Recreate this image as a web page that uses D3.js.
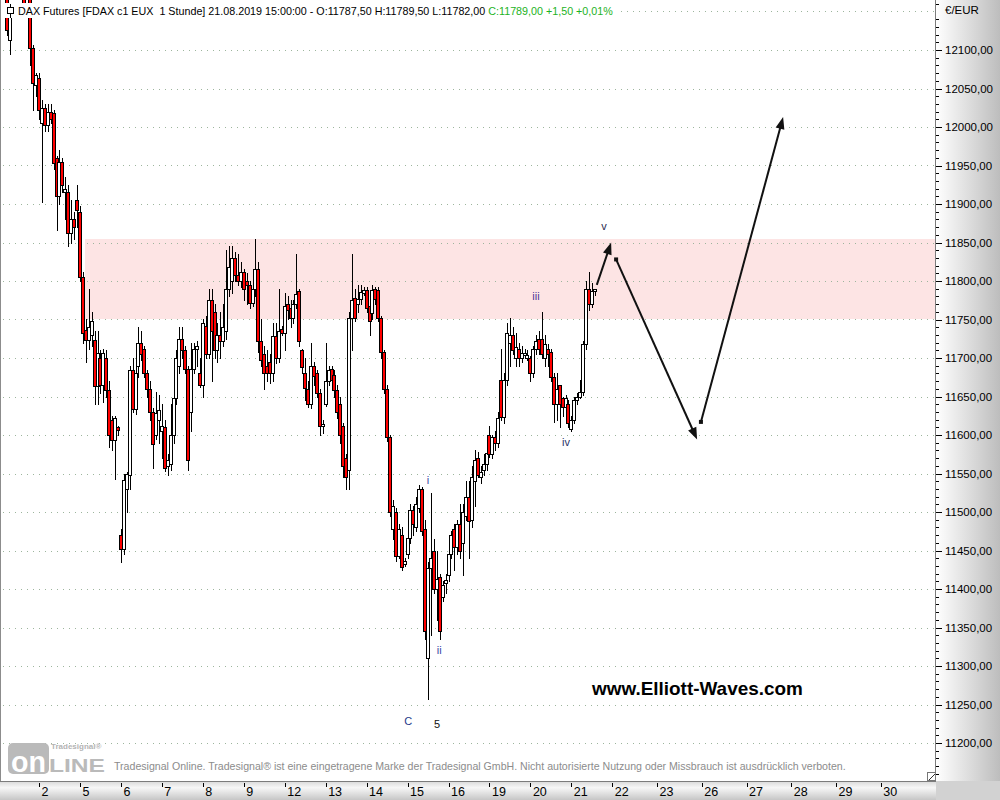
<!DOCTYPE html>
<html><head><meta charset="utf-8">
<script src="https://cdn.jsdelivr.net/npm/d3@7"></script>
<style>
body{margin:0;background:#fff;}
svg{display:block;}
text{font-family:"Liberation Sans",Arial,sans-serif;}
</style>
</head><body>
<svg id="chart" width="1000" height="800"></svg>
<script>
// ---- DATA: hourly candles [open, high, low, close], 14 bars per trading day ----
const aug01 = [
[12200,12210,12180,12190],[12190,12200,12170,12180],[12180,12190,12168,12175],[12175,12180,12120,12126],
[12113,12158,12095,12148],[12168,12200,12166,12195],[12195,12230,12185,12220],[12220,12240,12205,12215],
[12215,12225,12190,12195],[12195,12200,12155,12158],[12160,12180,12150,12172],[12172,12178,12080,12102],
[12102,12106,12022,12057],[12054,12070,12040,12067]];
const aug02 = [
[12064,12070,12010,12022],[12005,12035,11902,12025],[12025,12030,11995,12002],[12002,12030,11995,12020],
[12020,12030,12005,12010],[12018,12022,11945,11953],[11960,11962,11866,11910],[11910,11970,11900,11955],
[11955,11960,11915,11925],[11915,11935,11880,11920],[11915,11925,11845,11862],[11862,11905,11850,11880],
[11880,11890,11855,11870],[11905,11925,11870,11892]];
const aug05 = [
[11890,11898,11800,11805],[11805,11812,11720,11732],[11736,11750,11695,11724],[11724,11790,11712,11740],
[11730,11760,11715,11748],[11723,11735,11640,11664],[11664,11735,11640,11706],[11700,11710,11655,11665],
[11665,11712,11643,11706],[11700,11710,11650,11658],[11658,11670,11585,11600],[11620,11625,11580,11593],
[11593,11625,11543,11622],[11610,11612,11600,11606]];
const aug06 = [
[11470,11478,11435,11452],[11452,11550,11445,11542],[11530,11552,11500,11550],[11548,11690,11530,11684],
[11684,11700,11630,11634],[11634,11710,11627,11680],[11690,11740,11675,11720],[11720,11735,11698,11705],
[11712,11715,11675,11680],[11680,11685,11650,11660],[11660,11670,11620,11630],[11630,11635,11557,11588],
[11600,11656,11595,11628],[11620,11652,11590,11632]];
const aug07 = [
[11605,11640,11570,11612],[11610,11620,11553,11557],[11560,11575,11548,11568],[11562,11640,11555,11600],
[11600,11672,11590,11648],[11648,11710,11640,11700],[11690,11740,11680,11725],[11725,11740,11700,11710],
[11710,11715,11680,11686],[11686,11690,11555,11568],[11630,11720,11605,11686],[11686,11720,11680,11712],
[11712,11722,11690,11716],[11680,11700,11662,11665]];
const aug08 = [
[11665,11750,11650,11745],[11742,11755,11700,11705],[11705,11790,11700,11775],[11775,11790,11670,11735],
[11760,11770,11700,11710],[11710,11745,11695,11730],[11730,11760,11700,11722],[11722,11770,11715,11740],
[11735,11840,11725,11790],[11790,11845,11780,11818],[11800,11846,11785,11830],[11830,11838,11800,11808],
[11808,11835,11795,11800],[11800,11825,11792,11812]];
const aug09 = [
[11812,11815,11775,11790],[11800,11810,11770,11795],[11795,11800,11765,11772],[11772,11798,11768,11790],
[11790,11855,11780,11815],[11815,11825,11708,11722],[11722,11750,11690,11698],[11705,11715,11660,11680],
[11690,11710,11670,11680],[11695,11705,11668,11680],[11680,11745,11670,11728],[11728,11745,11694,11700],
[11700,11790,11695,11735],[11738,11742,11730,11733]];
const aug12 = [
[11733,11785,11710,11768],[11770,11780,11750,11762],[11765,11775,11740,11752],[11752,11775,11745,11770],
[11770,11835,11765,11783],[11787,11790,11715,11722],[11710,11712,11680,11688],[11680,11700,11646,11661],
[11660,11670,11637,11640],[11640,11720,11635,11690],[11690,11695,11665,11677],[11680,11685,11650,11655],
[11655,11660,11600,11612],[11612,11620,11603,11614]];
const aug13 = [
[11640,11720,11638,11670],[11670,11690,11665,11685],[11686,11690,11668,11672],[11678,11684,11650,11658],
[11658,11665,11622,11630],[11640,11650,11590,11600],[11612,11615,11545,11560],[11570,11575,11530,11545],
[11555,11760,11530,11752],[11752,11835,11710,11775],[11778,11790,11748,11752],[11770,11795,11760,11777],
[11777,11795,11770,11786],[11785,11792,11782,11788]];
const aug14 = [
[11788,11792,11760,11765],[11768,11785,11730,11748],[11758,11795,11750,11788],[11790,11792,11770,11776],
[11788,11792,11748,11752],[11752,11755,11700,11708],[11708,11710,11655,11660],[11660,11665,11592,11598],
[11598,11600,11495,11500],[11478,11515,11465,11508],[11500,11505,11437,11443],[11443,11485,11440,11478],
[11470,11480,11425,11428],[11433,11440,11430,11437]];
const aug15 = [
[11445,11470,11440,11466],[11466,11510,11460,11503],[11503,11508,11470,11485],[11480,11520,11475,11510],
[11505,11535,11500,11530],[11530,11532,11470,11475],[11478,11490,11335,11345],[11310,11435,11257,11427],
[11427,11525,11340,11440],[11450,11465,11395,11400],[11400,11450,11360,11413],[11415,11420,11335,11345],
[11390,11410,11385,11405],[11408,11420,11395,11412]];
const aug16 = [
[11418,11450,11410,11445],[11445,11475,11440,11470],[11478,11485,11425,11455],[11455,11490,11445,11485],
[11485,11510,11440,11450],[11460,11510,11418,11500],[11495,11540,11490,11520],[11520,11540,11440,11488],
[11490,11560,11480,11545],[11540,11580,11508,11568],[11570,11578,11545,11548],[11545,11560,11538,11552],
[11555,11575,11548,11562],[11562,11580,11555,11577]];
const aug19 = [
[11600,11612,11572,11575],[11575,11600,11570,11598],[11598,11605,11580,11590],[11590,11630,11585,11622],
[11672,11712,11620,11624],[11624,11680,11615,11672],[11672,11745,11665,11733],[11720,11752,11690,11730],
[11730,11740,11705,11710],[11700,11732,11690,11714],[11712,11720,11690,11700],[11700,11716,11695,11706],
[11704,11712,11700,11706],[11700,11710,11697,11704]];
const aug20 = [
[11700,11702,11670,11680],[11680,11715,11675,11712],[11712,11730,11705,11722],[11725,11735,11705,11712],
[11725,11760,11700,11705],[11700,11730,11690,11718],[11712,11718,11690,11705],[11708,11712,11670,11675],
[11675,11680,11617,11640],[11640,11680,11620,11660],[11665,11665,11610,11640],[11648,11650,11625,11637],
[11637,11652,11632,11648],[11640,11645,11610,11615]];
const aug21 = [
[11608,11625,11605,11620],[11620,11650,11615,11646],[11646,11655,11640,11650],[11650,11672,11648,11656],
[11656,11722,11652,11718],[11718,11800,11712,11790],[11790,11812,11762,11770],[11770,11798,11766,11787.5],
[11787.5,11789.5,11782,11789]];

// date axis: labels and their bar-slot positions
const dayLabels = ["2","5","6","7","8","9","12","13","14","15","16","19","20","21","22","23","26","27","28","29","30"];
const daySlots  = [14,28,42,56,70,84,98,112,126,140,154,168,182,196,210,225.3,240.6,255.9,271.2,286.5,301.8];

// resistance zone (price range) and its starting slot
const zonePrices = [11750, 11855];
const zoneStartSlot = 29.7;

// projected path arrows: [slot, price] start -> end
const arrowStarts = [[204.7, 11795], [211.3, 11828], [240.3, 11617]];
const arrowEnds   = [[209.6, 11850], [239.0, 11594], [268.4, 12013]];
const arrowHasStartDot = [false, true, true];

// Elliott wave labels
const waveTexts  = ["i", "ii", "iii", "iv", "v", "C", "5"];
const waveSlots  = [147, 150.8, 183.9, 194.2, 207.2, 140.2, 150.1];
const wavePrices = [11542, 11321, 11780, 11591, 11871, 11229, 11225];

const headerTitle = "DAX Futures [FDAX c1 EUX  1 Stunde] 21.08.2019 15:00:00 - ";

// ---- STYLES ----
const waveColors = {"i":"#3848a8","ii":"#3848a8","iii":"#4a3a98","iv":"#2a3468","v":"#2a2a50","C":"#1f3a8a","5":"#111"};

// ---- BUILD ----
const days = [aug01,aug02,aug05,aug06,aug07,aug08,aug09,aug12,aug13,aug14,aug15,aug16,aug19,aug20,aug21];
const bars = days.flat().map((d,i)=>({i, o:d[0], h:d[1], l:d[2], c:d[3]}));

const W = 1000, H = 800, plotR = 936, plotB = 781;
const svg = d3.select("#chart");
const x = d3.scaleLinear().domain([0,196]).range([-1.95,571.35]);
const y = d3.scaleLinear().domain([11200,12100]).range([743,50]);

const defs = svg.append("defs");
defs.append("clipPath").attr("id","plotclip").append("rect")
  .attr("x",1).attr("y",0).attr("width",plotR-1).attr("height",plotB);
const gR = defs.append("linearGradient").attr("id","gradR").attr("x1","0").attr("x2","1").attr("y1","0").attr("y2","0");
gR.append("stop").attr("offset","0%").attr("stop-color","#ffffff");
gR.append("stop").attr("offset","100%").attr("stop-color","#bdbdbd");
const gB = defs.append("linearGradient").attr("id","gradB").attr("x1","0").attr("x2","0").attr("y1","0").attr("y2","1");
gB.append("stop").attr("offset","0%").attr("stop-color","#d8d8d8");
gB.append("stop").attr("offset","35%").attr("stop-color","#f7f7f7");
gB.append("stop").attr("offset","100%").attr("stop-color","#c6c6c6");

svg.append("rect").attr("width",W).attr("height",H).attr("fill","#fff");

const plot = svg.append("g").attr("clip-path","url(#plotclip)");

// zone
plot.append("rect")
  .attr("x", Math.round(x(zoneStartSlot)))
  .attr("y", Math.round(y(zonePrices[1])))
  .attr("width", plotR - Math.round(x(zoneStartSlot)))
  .attr("height", Math.round(y(zonePrices[0])) - Math.round(y(zonePrices[1])))
  .attr("fill","#fde4e4");

// grid
const gridLevels = d3.range(11150, 12151, 50);
plot.selectAll("line.grid").data(gridLevels).join("line")
  .attr("class","grid")
  .attr("x1",3).attr("x2",plotR)
  .attr("y1",v=>Math.round(y(v))+0.5).attr("y2",v=>Math.round(y(v))+0.5)
  .attr("stroke","#9db59d").attr("stroke-width",1).attr("stroke-dasharray","1,5");

// candles
const cg = plot.append("g").attr("shape-rendering","crispEdges");
cg.selectAll("line.wick").data(bars).join("line")
  .attr("class","wick")
  .attr("x1",d=>Math.round(x(d.i))+0.5).attr("x2",d=>Math.round(x(d.i))+0.5)
  .attr("y1",d=>Math.round(y(d.h))).attr("y2",d=>Math.round(y(d.l))+1)
  .attr("stroke","#000").attr("stroke-width",1);
cg.selectAll("rect.body").data(bars).join("rect")
  .attr("class","body")
  .attr("x",d=>Math.round(x(d.i))-1.5)
  .attr("width",3)
  .attr("y",d=>Math.round(y(Math.max(d.o,d.c)))+0.5)
  .attr("height",d=>Math.max(1, Math.round(y(Math.min(d.o,d.c))) - Math.round(y(Math.max(d.o,d.c)))))
  .attr("fill",d=>d.c < d.o ? "#ff0000" : "#ffffff")
  .attr("stroke","#000").attr("stroke-width",1);

// arrows
const ag = plot.append("g");
arrowStarts.forEach((s,k)=>{
  const e = arrowEnds[k];
  const x0 = x(s[0]), y0 = y(s[1]), x1 = x(e[0]), y1 = y(e[1]);
  const ang = Math.atan2(y1-y0, x1-x0);
  const L = 12, hw = 4.5;
  const bx = x1 - L*Math.cos(ang), by = y1 - L*Math.sin(ang);
  ag.append("line").attr("x1",x0).attr("y1",y0).attr("x2",bx+2*Math.cos(ang)).attr("y2",by+2*Math.sin(ang))
    .attr("stroke","#111").attr("stroke-width",2);
  const pts = [[x1,y1],[bx - hw*Math.sin(ang), by + hw*Math.cos(ang)],[bx + hw*Math.sin(ang), by - hw*Math.cos(ang)]];
  ag.append("polygon").attr("points", pts.map(p=>p.join(",")).join(" ")).attr("fill","#111");
  if (arrowHasStartDot[k]) {
    ag.append("rect").attr("x",x0-2).attr("y",y0-2).attr("width",4).attr("height",4).attr("fill","#111");
  }
});

// wave labels
plot.selectAll("text.wave").data(waveTexts).join("text")
  .attr("class","wave")
  .attr("x",(d,i)=>x(waveSlots[i])).attr("y",(d,i)=>y(wavePrices[i]))
  .attr("dy","0.35em")
  .attr("text-anchor","middle")
  .attr("font-size","11px")
  .attr("fill",d=>waveColors[d])
  .text(d=>d);

// watermark
const wm = svg.append("text").attr("x",592).attr("y",695)
  .attr("font-size","18px").attr("font-weight","bold").attr("fill","#000")
  .text("www.Elliott-Waves.com");
fitWidth(wm, 211);

// footer logo + note
const logo = svg.append("g");
logo.append("rect").attr("x",8).attr("y",743).attr("width",41).attr("height",31).attr("rx",5).attr("fill","#bababa");
const on = logo.append("text").attr("x",11).attr("y",772).attr("font-size","20px").attr("font-weight","bold").attr("fill","#fff").text("on");
fitWidth(on, 35);
const lineT = logo.append("text").attr("x",49).attr("y",772).attr("font-size","19px").attr("font-weight","bold").attr("fill","#bababa")
  .attr("textLength",56).attr("lengthAdjust","spacingAndGlyphs").text("LINE");
logo.append("text").attr("x",51).attr("y",749).attr("font-size","8px").attr("font-weight","bold").attr("fill","#b4b4b4").text("Tradesignal®");
const foot = svg.append("text").attr("x",114).attr("y",770).attr("font-size","11px").attr("fill","#8c8c8c")
  .text("Tradesignal Online. Tradesignal® ist eine eingetragene Marke der Tradesignal GmbH. Nicht autorisierte Nutzung oder Missbrauch ist ausdrücklich verboten.");
fitWidth(foot, 732);

// resize glyph
svg.append("rect").attr("x",927.5).attr("y",772.5).attr("width",8).attr("height",8).attr("fill","#fff").attr("stroke","#777");
svg.append("line").attr("x1",929).attr("y1",780).attr("x2",935).attr("y2",774).attr("stroke","#333");

// header
const last = bars[bars.length-1], prev = bars[bars.length-2];
const fmt2 = v => v.toFixed(2).replace(".",",");
const chg = last.c - prev.c, pct = chg/prev.c*100;
const hdrBg = svg.append("rect").attr("x",3).attr("y",3).attr("height",15).attr("fill","#fff");
const icon = svg.append("g").attr("shape-rendering","crispEdges");
icon.append("line").attr("x1",10.5).attr("x2",10.5).attr("y1",4).attr("y2",18).attr("stroke","#000");
icon.append("rect").attr("x",7.5).attr("y",7.5).attr("width",6).attr("height",6).attr("fill","#fff").attr("stroke","#000");
const hdr = svg.append("text").attr("x",18).attr("y",15).attr("font-size","11px").style("white-space","pre");
hdr.append("tspan").attr("fill","#000")
  .text(headerTitle + "O:" + fmt2(last.o) + " H:" + fmt2(last.h) + " L:" + fmt2(last.l) + " ");
hdr.append("tspan").attr("fill","#1db31d")
  .text("C:" + fmt2(last.c) + " " + (chg>=0?"+":"") + fmt2(chg) + " " + (pct>=0?"+":"") + fmt2(pct) + "%");
fitWidth(hdr, 595);
hdrBg.attr("width", 18 + hdr.node().getComputedTextLength() + 4 - 3);

// right axis panel
svg.append("rect").attr("x",plotR).attr("y",0).attr("width",W-plotR).attr("height",plotB).attr("fill","url(#gradR)");
svg.append("rect").attr("x",0).attr("y",plotB).attr("width",plotR).attr("height",H-plotB).attr("fill","url(#gradB)");
svg.append("rect").attr("x",plotR).attr("y",plotB).attr("width",W-plotR).attr("height",H-plotB).attr("fill","#d2d2d2");
svg.append("line").attr("x1",plotR-0.5).attr("x2",plotR-0.5).attr("y1",0).attr("y2",plotB).attr("stroke","#7c7c7c");
svg.append("line").attr("x1",0).attr("x2",plotR).attr("y1",plotB+0.5).attr("y2",plotB+0.5).attr("stroke","#7c7c7c");
svg.append("line").attr("x1",0.5).attr("x2",0.5).attr("y1",0).attr("y2",plotB).attr("stroke","#8c8c8c");

const majorTicks = d3.range(11200, 12101, 50);
const minorTicks = d3.range(11160, 12161, 10).filter(v => v % 50 !== 0);
const yAxisMinor = d3.axisRight(y).tickValues(minorTicks).tickFormat("").tickSizeInner(3).tickSizeOuter(0);
const yAxisMajor = d3.axisRight(y).tickValues(majorTicks).tickFormat(fmt2).tickSizeInner(6).tickSizeOuter(0).tickPadding(3);
const gy1 = svg.append("g").attr("transform",`translate(${plotR},0)`).call(yAxisMinor);
const gy2 = svg.append("g").attr("transform",`translate(${plotR},0)`).call(yAxisMajor);
[gy1,gy2].forEach(g=>{ g.select(".domain").remove(); g.selectAll("line").attr("stroke","#000").attr("shape-rendering","crispEdges"); });
gy2.selectAll("text").attr("font-size","11.5px").attr("fill","#000").attr("font-family",'"Liberation Sans",Arial,sans-serif');
svg.append("text").attr("x",945).attr("y",14).attr("font-size","11.5px").attr("fill","#000").text("€/EUR");

// date axis
const xAxis = d3.axisBottom(x).tickValues(daySlots).tickFormat((d,i)=>dayLabels[i]).tickSizeInner(4).tickSizeOuter(0);
const gx = svg.append("g").attr("transform",`translate(0,${plotB+2})`).call(xAxis);
gx.select(".domain").remove();
gx.selectAll("line").attr("stroke","#000").attr("shape-rendering","crispEdges");
gx.selectAll("text").attr("text-anchor","start").attr("x",2).attr("y",4).attr("dy","0.75em")
  .attr("font-size","12.5px").attr("fill","#000").attr("font-family",'"Liberation Sans",Arial,sans-serif');

function fitWidth(sel, target){
  const fs = parseFloat(sel.attr("font-size"));
  const w = sel.node().getComputedTextLength();
  if (w > 0) sel.attr("font-size", (fs*target/w).toFixed(2)+"px");
}
</script>
</body></html>
